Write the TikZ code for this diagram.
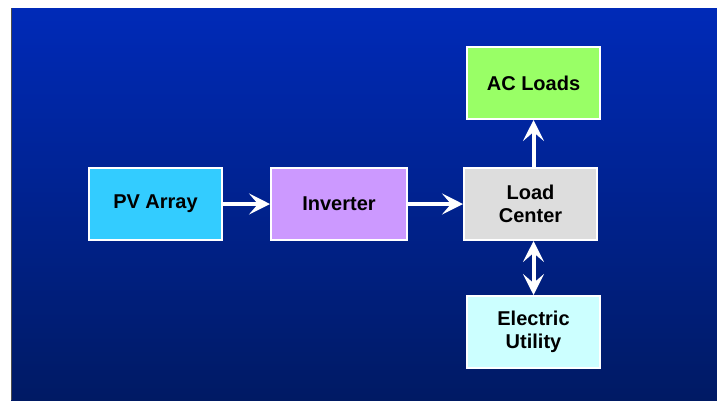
\documentclass[tikz,border=0pt]{standalone}
\usepackage{fontspec}
\setmainfont{Liberation Sans}
\usepackage{xcolor}
\usetikzlibrary{positioning,arrows.meta}

\definecolor{bgtop}{RGB}{0,42,184}
\definecolor{bgbottom}{RGB}{0,26,100}
\definecolor{pvcol}{RGB}{51,204,255}
\definecolor{invcol}{RGB}{204,153,255}
\definecolor{lccol}{RGB}{221,221,221}
\definecolor{accol}{RGB}{153,255,102}
\definecolor{utilcol}{RGB}{204,255,255}

\begin{document}
\begin{tikzpicture}[
    x=1pt, y=1pt,
    box/.style={rectangle, draw=white, line width=2pt, minimum width=133pt, minimum height=72pt, align=center, inner sep=2pt},
    pvbox/.style={box, fill=pvcol},
    invbox/.style={box, fill=invcol, minimum width=136pt},
    lcbox/.style={box, fill=lccol},
    acbox/.style={box, fill=accol},
    utilbox/.style={box, fill=utilcol},
    arrow/.style={-{Stealth[length=21pt, width=21pt, inset=9pt]}, draw=white, line width=4pt},
    darrow/.style={{Stealth[length=21pt, width=21pt, inset=9pt]}-{Stealth[length=21pt, width=21pt, inset=9pt]}, draw=white, line width=4pt},
    every node/.style={font=\fontsize{20}{23}\selectfont\bfseries},
]
\useasboundingbox (0,0) rectangle (717,-400);
% background
\shade[top color=bgtop, bottom color=bgbottom] (11,-8) rectangle (717,-400);
\draw[black!70, line width=1pt] (11.5,-8) -- (11.5,-400);

\node[pvbox] (pv) at (155.5,-204) {PV Array};
\node[invbox, right=47pt of pv] (inv) {Inverter};
\node[lcbox, right=55pt of inv] (lc) {Load\\Center};
\node[acbox, above=47pt of lc, xshift=3pt] (ac) {AC Loads};
\node[utilbox, below=54pt of lc, xshift=3pt] (util) {Electric\\Utility};

\draw[arrow] (pv) -- (inv);
\draw[arrow] (inv) -- (lc);
\draw[arrow] (lc.north -| ac) -- (ac);
\draw[darrow] (lc.south -| util) -- (util);
\end{tikzpicture}
\end{document}
